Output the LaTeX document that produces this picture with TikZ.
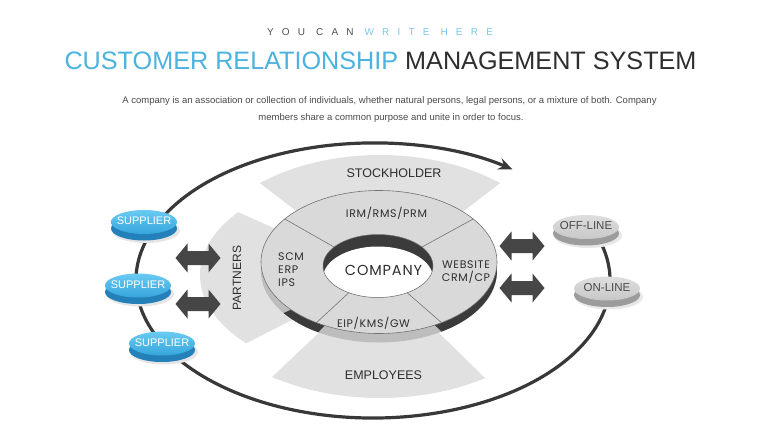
\documentclass[tikz,border=0pt]{standalone}
\usepackage{fontspec}
\setmainfont{Liberation Sans}
\newfontfamily\geo{Poppins}[LetterSpace=6]
\newfontfamily\spaced{Liberation Sans}[LetterSpace=82]
\usetikzlibrary{arrows.meta}
\definecolor{tblue}{HTML}{4BB3DD}
\definecolor{sblue}{HTML}{7CC8E8}
\definecolor{sgray}{HTML}{505050}
\definecolor{tdark}{HTML}{2E2E2E}
\definecolor{ptext}{HTML}{4A4A4A}
\definecolor{bandc}{HTML}{E1E1E1}
\definecolor{facec}{HTML}{D9D9D9}
\definecolor{sidec}{HTML}{BDBDBD}
\definecolor{darkc}{HTML}{3B3B3B}
\definecolor{linec}{HTML}{383838}
\definecolor{arrc}{HTML}{464646}
\definecolor{HTMLsupside}{HTML}{2380B8}
\definecolor{HTMLsuptopA}{HTML}{6ACBF2}
\definecolor{HTMLsuptopB}{HTML}{36A5DC}
\definecolor{HTMLoffside}{HTML}{9C9C9C}
\definecolor{HTMLofftopA}{HTML}{DEDEDE}
\definecolor{HTMLofftopB}{HTML}{C8C8C8}
\newcommand\mkdisc[5]{%
  \fill[#5shadow] (#1+2,#2+8.5) ellipse [x radius=34, y radius=12.5];
  \fill[#5side] (#1,#2+6.5) ellipse [x radius=33, y radius=12];
  \shade[#5top] (#1,#2) ellipse [x radius=33, y radius=12];
  \node[#5text] (#3) at (#1,#2-1) {#4};}
\newcommand\dblarr[2]{%
  \fill[arrc] (#1,#2) ++(-22.5,0) -- ++(12,-14.5) -- ++(0,7.5) -- ++(21,0) -- ++(0,-7.5)
    -- ++(12,14.5) -- ++(-12,14.5) -- ++(0,-7.5) -- ++(-21,0) -- ++(0,7.5) -- cycle;}
\tikzset{
  supshadow/.style={fill=black!10},
  supside/.style={fill=HTMLsupside},
  suptop/.style={top color=HTMLsuptopA, bottom color=HTMLsuptopB},
  suptext/.style={text=white, font=\fontsize{11}{12}\selectfont, inner sep=0pt},
  offshadow/.style={fill=black!9},
  offside/.style={fill=HTMLoffside},
  offtop/.style={top color=HTMLofftopA, bottom color=HTMLofftopB},
  offtext/.style={text=ptext, font=\fontsize{11.5}{12}\selectfont, inner sep=0pt},
  band/.style={fill=bandc},
  lbl/.style={text=tdark, font=\fontsize{12.5}{14}\selectfont, inner sep=0pt},
  glbl/.style={text=tdark, font=\geo\fontsize{11}{13}\selectfont, inner sep=0pt},
  divider/.style={draw=black!55, line width=0.6pt},
  bigring/.style={draw=linec, line width=3.2pt},
}
\begin{document}
\begin{tikzpicture}[x=1pt,y=-1pt]
\useasboundingbox (0,0) rectangle (760,428);
\fill[white] (0,0) rectangle (760,428);
% header
\node[anchor=base, inner sep=0pt] (sub) at (380,36) {\fontsize{10}{12}\spaced\textcolor{sgray}{YOU CAN} \textcolor{sblue}{WRITE HERE}};
\node[anchor=base, inner sep=0pt] (title) at (380.5,70) {\fontsize{25.2}{28}\selectfont\textcolor{tblue}{CUSTOMER RELATIONSHIP} \textcolor{tdark}{MANAGEMENT SYSTEM}};
\node[anchor=base, inner sep=0pt, text=ptext] (p1) at (389.5,103) {\fontsize{9.5}{12}\selectfont A company is an association or collection of individuals, whether natural persons, legal persons, or a mixture of both. Company};
\node[anchor=base, inner sep=0pt, text=ptext] (p2) at (391,120) {\fontsize{9.5}{12}\selectfont members share a common purpose and unite in order to focus.};
% bands
\fill[band] (380,275) -- ++(230:187 and 120) arc[start angle=230, end angle=310, x radius=187, y radius=120] -- cycle;
\fill[band] (380,275) -- ++(57:193 and 123) arc[start angle=57, end angle=124, x radius=193, y radius=123] -- cycle;
\fill[band] (380,275) -- ++(138:180 and 102) arc[start angle=138, end angle=218, x radius=180, y radius=102] -- cycle;
% big cycle
\draw[bigring, -{Stealth[length=14pt, width=12pt, inset=5pt]}] (373,280.5) ++(-16:237 and 137.5)
  arc[start angle=-16, end angle=306, x radius=237, y radius=137.5];
% ring side
\fill[sidec] (379,271) ellipse [x radius=118, y radius=71.5];
\fill[darkc] (379,271) -- ++(-2:118 and 71.5) arc[start angle=-2, end angle=58, x radius=118, y radius=71.5] -- cycle;
\fill[darkc] (379,271) -- ++(121:118 and 71.5) arc[start angle=121, end angle=144, x radius=118, y radius=71.5] -- cycle;
% ring face
\filldraw[fill=facec, draw=black!55, line width=0.6pt] (379,262) ellipse [x radius=118, y radius=71.5];
\fill[darkc] (378,266) ellipse [x radius=55, y radius=31.5];
\begin{scope}
  \clip (378,266) ellipse [x radius=55, y radius=31.5];
  \fill[white] (378,278) ellipse [x radius=55, y radius=31.5];
\end{scope}
\draw[black!55, line width=0.5pt] (378,266) ellipse [x radius=55, y radius=31.5];
\foreach \a in {217,323,122,58}
  \draw[divider] ([shift={(378,266)}]\a:55 and 31.5) -- ([shift={(379,262)}]\a:118 and 71.5);
% ring labels
\node[glbl, anchor=base] (irm) at (386.5,217) {IRM/RMS/PRM};
\node[glbl, anchor=base west] (scm) at (278,260) {SCM};
\node[glbl, anchor=base west] (erp) at (278,273.3) {ERP};
\node[glbl, anchor=base west] (ips) at (278,286.7) {IPS};
\node[glbl, anchor=base] (web) at (466,268) {WEBSITE};
\node[glbl, anchor=base] (crm) at (466,281.7) {CRM/CP};
\node[glbl, anchor=base] (eip) at (373.5,327) {EIP/KMS/GW};
\node[glbl, anchor=base, font=\geo\fontsize{14.5}{16}\selectfont] (comp) at (383.5,275) {COMPANY};
% band labels
\node[lbl, anchor=base] (stock) at (394,177) {STOCKHOLDER};
\node[lbl, anchor=base] (emp) at (383.5,379) {EMPLOYEES};
\node[lbl, rotate=90, font=\fontsize{12}{14}\selectfont] (part) at (237,278) {PARTNERS};
% double arrows
\dblarr{198}{258}
\dblarr{198}{304}
\dblarr{522}{246}
\dblarr{522}{288}
% discs
\mkdisc{144}{222}{sup1}{SUPPLIER}{sup}
\mkdisc{138}{285.5}{sup2}{SUPPLIER}{sup}
\mkdisc{162}{343.5}{sup3}{SUPPLIER}{sup}
\mkdisc{586}{227}{off}{OFF-LINE}{off}
\mkdisc{607}{288.5}{on}{ON-LINE}{off}
\end{tikzpicture}
\end{document}
